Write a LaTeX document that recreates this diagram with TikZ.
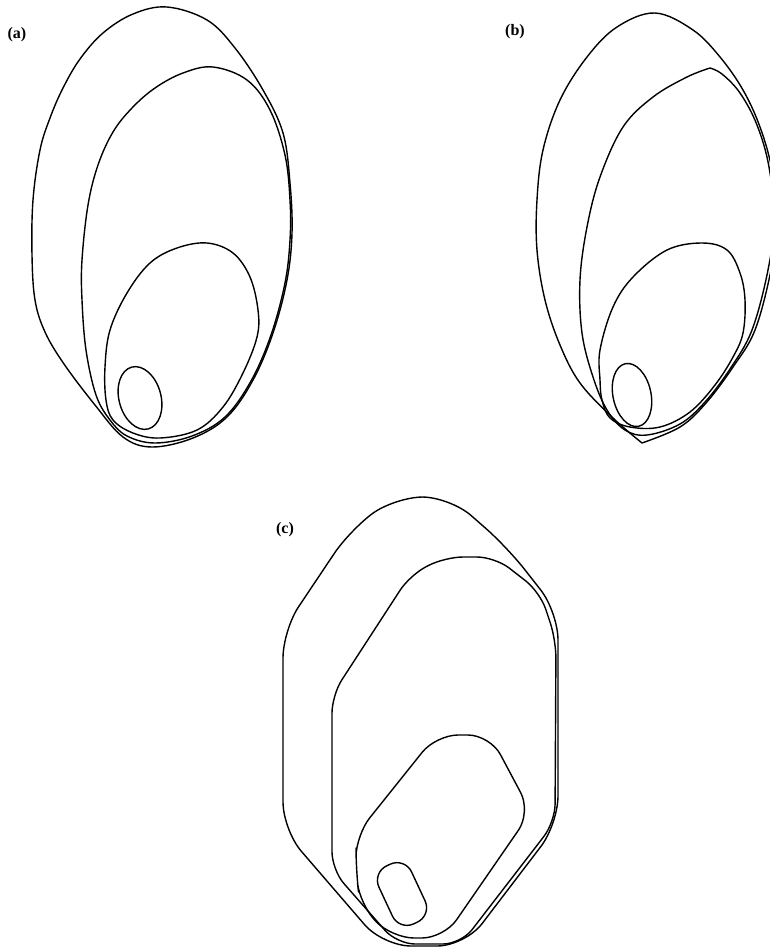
\documentclass[tikz,border=0pt]{standalone}
\usepackage{fontspec}
\usepackage{tikz}
\setmainfont{Liberation Serif}

\begin{document}
\begin{tikzpicture}[
    x=1pt, y=-1pt,
    contour/.style={line width=1.4pt, line join=round, line cap=round},
    tag/.style={font=\fontsize{16}{18}\selectfont\bfseries, inner sep=0pt}
  ]
    \useasboundingbox (0,0) rectangle (770,948);
    \begin{scope}
    \clip (0,0) rectangle (770,948);

    \draw[contour] plot[smooth cycle, tension=0.6] coordinates {(167,7) (207,20) (235,48) (263,90) (283,133) (290,183) (292,233) (287,280) (273,333) (253,380) (227,417) (193,438) (152,447) (123,437) (95,405) (64,364) (45,332) (35,300) (32,255) (33,200) (40,150) (50,118) (63,88) (80,59) (103,33) (133,14)};
    \draw[contour] plot[smooth cycle, tension=0.6] coordinates {(213,67) (247,80) (270,110) (285,155) (290,200) (290,240) (285,283) (271,335) (251,381) (225,417) (192,436) (155,443) (127,436) (110,420) (96,395) (86,350) (82,300) (82,260) (88,205) (98,165) (113,132) (132,108) (155,88) (183,73)};
    \draw[contour] plot[smooth cycle, tension=0.6] coordinates {(207,243) (233,253) (250,277) (258,310) (257,337) (243,373) (223,407) (197,430) (160,438) (133,433) (113,420) (106,400) (105,367) (110,330) (127,293) (150,263) (177,248)};
    \draw[contour, rotate around={15:(140,398)}] (140,398) ellipse [x radius=21pt, y radius=32pt];

    \draw[contour] plot[smooth, tension=0.6] coordinates {(642,443) (613,418) (580,383) (560,345) (545,300) (537,250) (537,200) (543,150) (560,100) (587,57) (617,27) (655,13) (693,30) (720,57) (743,90) (760,127) (772,170) (777,220) (771,270) (755,330) (733,367) (706,403) (680,427) (642,443)};
    \draw[contour] plot[smooth, tension=0.6] coordinates {(710,68) (687,77) (653,97) (623,127) (600,177) (587,227) (580,280) (582,333) (593,377) (607,410) (625,430) (647,435) (680,424) (705,402) (730,369) (752,330) (768,270) (774,220) (769,167) (757,125) (740,93) (722,74) (710,68)};
    \draw[contour] plot[smooth cycle, tension=0.6] coordinates {(702,243) (727,250) (740,273) (745,300) (743,333) (733,357) (715,385) (690,412) (660,427) (630,427) (610,418) (602,400) (600,380) (600,350) (613,307) (633,277) (667,250)};
    \draw[contour, rotate around={12:(632,395)}] (632,395) ellipse [x radius=19pt, y radius=32pt];

    \draw[contour, rounded corners=28pt] (283,720) -- (283,630) -- (350,530) -- (395,497) -- (450,497) -- (507,547) -- (558,612) -- (558,824) -- (465,946) -- (383,946) -- (283,830) -- cycle;
    \draw[contour, rounded corners=18pt] (332,760) -- (332,695) -- (410,575) -- (445,557) -- (495,557) -- (540,592) -- (556,640) -- (555,822) -- (461,944) -- (397,944) -- (332,870) -- cycle;
    \draw[contour, rounded corners=22pt] (356,870) -- (356,835) -- (436,735) -- (490,735) -- (531,812) -- (444,938) -- (392,938) -- (360,905) -- cycle;
    \draw[contour, rounded corners=16pt, rotate around={25:(402,894)}] (384,862) rectangle (420,926);
    \end{scope}

    \node[tag] (taga) at (17,35) {(a)};
    \node[tag] (tagb) at (515,32) {(b)};
    \node[tag] (tagc) at (285,530) {(c)};
  \end{tikzpicture}
\end{document}
